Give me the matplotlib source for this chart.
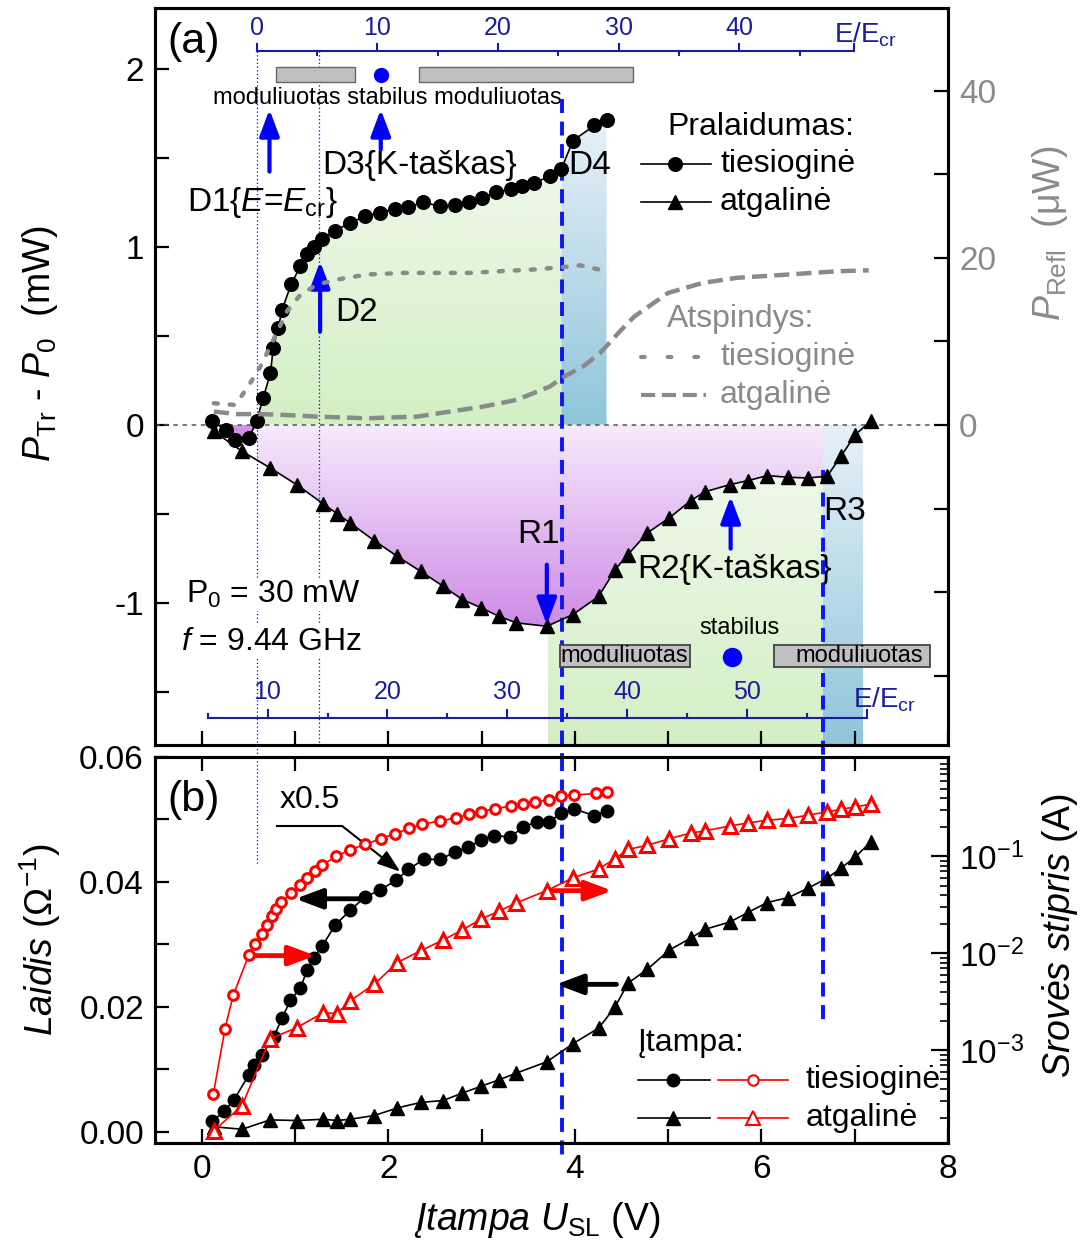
import numpy as np
import matplotlib
matplotlib.use("Agg")
import matplotlib.pyplot as plt
from matplotlib.colors import LinearSegmentedColormap
from matplotlib.patches import PathPatch, Rectangle
from matplotlib.ticker import (FixedLocator, FixedFormatter, MultipleLocator,
                               FormatStrFormatter, LogLocator, NullFormatter)

plt.rcParams["font.family"] = ["Liberation Sans", "DejaVu Sans"]
plt.rcParams["mathtext.fontset"] = "custom"
plt.rcParams["mathtext.rm"] = "Liberation Sans"
plt.rcParams["mathtext.it"] = "Liberation Sans:italic"
plt.rcParams["mathtext.bf"] = "Liberation Sans:bold"
plt.rcParams["axes.unicode_minus"] = False

# ---- (a) transmission, forward sweep
u_fwd_tr = [0.114, 0.257, 0.357, 0.51, 0.588, 0.66, 0.738, 0.767, 0.82, 0.863, 0.96, 1.059,
            1.13, 1.20, 1.29, 1.43, 1.594, 1.754, 1.914, 2.075, 2.217, 2.37, 2.556, 2.717,
            2.866, 3.0, 3.16, 3.32, 3.43, 3.565, 3.733, 3.857, 3.98, 4.21, 4.34]
p_fwd_tr = [0.02, -0.03, -0.085, -0.075, 0.02, 0.15, 0.29, 0.43, 0.54, 0.646, 0.79, 0.889,
            0.96, 1.00, 1.04, 1.09, 1.133, 1.17, 1.19, 1.213, 1.22, 1.25, 1.226, 1.236,
            1.25, 1.27, 1.305, 1.324, 1.34, 1.358, 1.395, 1.438, 1.595, 1.68, 1.71]

# ---- backward sweep voltages (shared by the backward series)
u_back = [0.128, 0.433, 0.733, 1.017, 1.305, 1.45, 1.59, 1.85, 2.096, 2.346, 2.588, 2.795,
          2.998, 3.185, 3.374, 3.70, 3.98, 4.256, 4.432, 4.57, 4.777, 5.013, 5.243, 5.393,
          5.665, 5.855, 6.062, 6.29, 6.50, 6.705, 6.853, 7.008, 7.17]
p_back_tr = [-0.037, -0.15, -0.243, -0.337, -0.446, -0.5, -0.552, -0.652, -0.74, -0.824, -0.908,
             -0.983, -1.03, -1.077, -1.114, -1.133, -1.067, -0.965, -0.815, -0.73, -0.609,
             -0.524, -0.427, -0.378, -0.337, -0.315, -0.287, -0.296, -0.30, -0.29, -0.178,
             -0.056, 0.019]

# ---- (a) reflected power (uW)
u_fwd_refl = [0.13, 0.345, 0.40, 0.52, 0.63, 0.77, 0.915, 1.06, 1.235, 1.45, 1.77, 2.165,
              2.56, 2.88, 3.2, 3.555, 3.88, 4.06, 4.26]
r_fwd_refl = [2.6, 2.4, 3.0, 5.0, 7.0, 10.2, 13.6, 15.6, 16.8, 17.4, 18.0, 18.2,
              18.2, 18.2, 18.4, 18.6, 18.9, 19.1, 18.6]
u_back_refl = [0.131, 0.38, 0.63, 0.88, 1.24, 1.77, 2.31, 2.66, 3.02, 3.376, 3.733, 3.857,
               4.088, 4.27, 4.50, 4.64, 5.0, 5.37, 5.73, 6.28, 6.82, 7.15]
r_back_refl = [1.6, 1.3, 1.3, 1.2, 1.0, 0.8, 1.0, 1.6, 2.2, 3.0, 4.6, 5.6,
               7.0, 8.6, 11.4, 13.0, 15.8, 17.0, 17.6, 18.0, 18.4, 18.5]

# ---- (b) conductance (1/Ohm) and current (A)
u_fwd_g = [0.114, 0.239, 0.346, 0.506, 0.56, 0.649, 0.773, 0.863, 0.952, 1.059, 1.13, 1.20,
           1.29, 1.433, 1.594, 1.754, 1.914, 2.086, 2.217, 2.378, 2.556, 2.717, 2.86, 2.995,
           3.134, 3.31, 3.447, 3.59, 3.72, 3.857, 3.99, 4.21, 4.34]
g_fwd = [0.00165, 0.00325, 0.0051, 0.0091, 0.0107, 0.0123, 0.0152, 0.0182, 0.0211, 0.023,
         0.0259, 0.0278, 0.0297, 0.0331, 0.0355, 0.0376, 0.0387, 0.0403, 0.042, 0.0436,
         0.0436, 0.0448, 0.0456, 0.0467, 0.0474, 0.0472, 0.0488, 0.0496, 0.0496, 0.051,
         0.0517, 0.0506, 0.0514]
g_back = [0.0008, 0.0004, 0.0019, 0.0018, 0.002, 0.0018, 0.002, 0.0026, 0.0038, 0.0047,
          0.005, 0.0062, 0.0073, 0.0083, 0.0094, 0.0112, 0.0141, 0.0166, 0.02, 0.0238,
          0.026, 0.0291, 0.031, 0.0324, 0.0336, 0.0351, 0.0367, 0.0375, 0.039, 0.0406,
          0.0422, 0.044, 0.0464]
u_fwd_i = [0.125, 0.25, 0.339, 0.506, 0.57, 0.642, 0.703, 0.756, 0.802, 0.852, 0.959, 1.059,
           1.13, 1.22, 1.29, 1.44, 1.594, 1.754, 1.92, 2.075, 2.225, 2.367, 2.55, 2.724,
           2.87, 2.995, 3.144, 3.32, 3.44, 3.57, 3.72, 3.857, 3.99, 4.23, 4.34]
i_fwd = [3.5e-4, 1.66e-3, 3.7e-3, 9.6e-3, 0.0126, 0.0158, 0.0197, 0.024, 0.0287, 0.0336,
         0.042, 0.0501, 0.0601, 0.0705, 0.0807, 0.1, 0.117, 0.133, 0.152, 0.172, 0.194,
         0.215, 0.231, 0.249, 0.272, 0.288, 0.311, 0.331, 0.351, 0.365, 0.38, 0.419,
         0.429, 0.446, 0.463]
i_back = [1.47e-4, 2.67e-4, 1.31e-3, 1.70e-3, 2.44e-3, 2.38e-3, 3.22e-3, 4.79e-3, 8.0e-3,
          0.0106, 0.0137, 0.0174, 0.0226, 0.0271, 0.0331, 0.0444, 0.060, 0.074, 0.0947,
          0.118, 0.13, 0.152, 0.174, 0.183, 0.206, 0.221, 0.236, 0.246, 0.266, 0.288,
          0.305, 0.325, 0.344]

# field-axis tick values (E/Ecr)
e_top_major = [0, 10, 20, 30, 40]
e_top_minor = [5, 15, 25, 35, 45]
e_bot_major = [10, 20, 30, 40, 50]
e_bot_minor = [15, 25, 35, 45, 55]

U_ECR = 0.588    # E = Ecr
U_D4 = 3.86
U_R3 = 6.66
BLUE = "#0a14ff"
NAVY = "#1c1c9c"
GRAY = "#8a8a8a"
FS = 24        # tick labels
FA = 24        # annotations
FL = 27        # axis labels
FSM = 17       # small texts


def gradient_fill(ax, x, y1, y2, y_light, y_dark, c_light, c_dark, z=0.5):
    coll = ax.fill_between(x, y1, y2, facecolor="none", edgecolor="none")
    patch = PathPatch(coll.get_paths()[0], facecolor="none", edgecolor="none",
                      transform=ax.transData)
    ax.add_patch(patch)
    lo, hi = min(y_light, y_dark), max(y_light, y_dark)
    cols = [c_dark, c_light] if y_light > y_dark else [c_light, c_dark]
    cmap = LinearSegmentedColormap.from_list("g", cols)
    grad = np.linspace(0, 1, 256).reshape(-1, 1)
    im = ax.imshow(grad, extent=[min(x), max(x), lo, hi], origin="lower", cmap=cmap,
                   aspect="auto", zorder=z, interpolation="bicubic")
    im.set_clip_path(patch)


def arrow(ax, x0, y0, x1, y1, color, lw=3, ms=20, hl=0.8, hw=0.3):
    ax.annotate("", xy=(x1, y1), xytext=(x0, y0),
                arrowprops=dict(arrowstyle=f"-|>,head_length={hl},head_width={hw}",
                                color=color, lw=lw, mutation_scale=ms,
                                shrinkA=0, shrinkB=0), zorder=8)


fig = plt.figure(figsize=(10.84, 12.49), dpi=100)
axt = fig.add_axes([155 / 1084, 1 - 745 / 1249, 793 / 1084, 737 / 1249])
axb = fig.add_axes([155 / 1084, 1 - 1143 / 1249, 793 / 1084, 386 / 1249])

XL = (-0.5, 8.0)
YT = (-1.8, 2.34)

# ================= panel (a) =================
uf = np.array(u_fwd_tr)
pf = np.array(p_fwd_tr)
ub = np.array(u_back)
pb = np.array(p_back_tr)

m = (uf >= U_ECR) & (uf <= 3.857)
gradient_fill(axt, uf[m], pf[m], 0, 1.45, 0, "#eef8ea", "#d3efc3")
m = uf >= 3.857
gradient_fill(axt, uf[m], pf[m], 0, 1.72, 0, "#e8f1f8", "#8fc5da")
xs = np.concatenate([[U_ECR], ub[(ub > U_ECR) & (ub < U_R3)], [U_R3]])
gradient_fill(axt, xs, np.interp(xs, ub, pb), 0, 0, -1.14, "#f6ebfb", "#cf8ae6")
xs = np.concatenate([[3.71], ub[(ub > 3.71) & (ub < U_R3)], [U_R3]])
gradient_fill(axt, xs, np.interp(xs, ub, pb), YT[0], -0.3, YT[0], "#eef8ea", "#d3efc3")
gradient_fill(axt, np.array([U_R3, 7.09]), np.array([0, 0]), YT[0], 0, YT[0],
              "#e8f1f8", "#8fc5da")
m = uf <= U_ECR
axt.fill_between(uf[m], pf[m], 0, where=pf[m] < 0, interpolate=True,
                 color="#d290e6", lw=0, zorder=0.6)

axt.axhline(0, color="#555555", lw=1.1, ls=(0, (3, 3)), zorder=2)

# guide lines
axt.plot([U_ECR, U_ECR], [2.096, -1.87], ls=(0, (1, 2)), color="blue", lw=0.9,
         zorder=2, clip_on=False)
axt.plot([1.26, 1.26], [2.096, YT[0]], ls=(0, (1, 2)), color="blue", lw=0.9, zorder=2)
axt.plot([U_D4, U_D4], [1.83, -1.87], ls=(0, (3.6, 2.2)), color=BLUE, lw=2.8,
         zorder=4, clip_on=False)
axt.plot([U_R3, U_R3], [-0.253, -1.87], ls=(0, (3.6, 2.2)), color=BLUE, lw=2.8,
         zorder=4, clip_on=False)

axt.plot(uf, pf, "-o", color="k", lw=1.2, ms=9.8, zorder=5)
axt.plot(ub, pb, "-^", color="k", lw=1.2, ms=10.5, zorder=5)


# E/Ecr axes drawn inside panel (a)
def u_top(e):
    return U_ECR + 0.1294 * np.asarray(e, dtype=float)


def u_bot(e):
    return 0.706 + 0.1286 * (np.asarray(e, dtype=float) - 10)


yE = 2.096
axt.plot(u_top([0, 49.5]), [yE, yE], color=NAVY, lw=1.5, zorder=3)
for e in e_top_major + [49.5]:
    axt.plot(u_top([e, e]), [yE, yE + 0.04], color=NAVY, lw=1.5, zorder=3)
for e in e_top_minor:
    axt.plot(u_top([e, e]), [yE, yE - 0.022], color=NAVY, lw=1.5, zorder=3)
for e in e_top_major:
    axt.text(u_top(e), 2.225, str(e), color=NAVY, fontsize=18, ha="center", va="center")
axt.text(7.12, 2.19, "E/E$_{\\rm cr}$", color=NAVY, fontsize=20, ha="center", va="center")

yE2 = -1.646
axt.plot(u_bot([5, 60]), [yE2, yE2], color=NAVY, lw=1.5, zorder=3)
for e in e_bot_major + [60]:
    axt.plot(u_bot([e, e]), [yE2, yE2 + 0.04], color=NAVY, lw=1.5, zorder=3)
for e in e_bot_minor + [5]:
    axt.plot(u_bot([e, e]), [yE2, yE2 + 0.022], color=NAVY, lw=1.5, zorder=3)
for e in e_bot_major:
    axt.text(u_bot(e), -1.50, str(e), color=NAVY, fontsize=18, ha="center", va="center")
axt.text(7.32, -1.545, "E/E$_{\\rm cr}$", color=NAVY, fontsize=20, ha="center", va="center")

# regime bars
axt.add_patch(Rectangle((0.80, 1.927), 0.847, 0.079, fc="#c0c0c0", ec="#666666", lw=1, zorder=3))
axt.add_patch(Rectangle((2.33, 1.927), 2.29, 0.079, fc="#c0c0c0", ec="#666666", lw=1, zorder=3))
axt.plot([1.925], [1.966], "o", color="blue", ms=10, zorder=4)
axt.text(1.995, 1.837, "moduliuotas stabilus moduliuotas", fontsize=FSM, ha="center",
         va="center")
axt.add_patch(Rectangle((3.84, -1.36), 1.39, 0.12, fc="#c0c0c0", ec="#444444", lw=1.3, zorder=6))
axt.add_patch(Rectangle((6.14, -1.36), 1.67, 0.12, fc="#c0c0c0", ec="#444444", lw=1.3, zorder=6))
axt.text(4.535, -1.30, "moduliuotas", fontsize=FSM, ha="center", va="center", zorder=7)
axt.text(7.05, -1.30, "moduliuotas", fontsize=FSM, ha="center", va="center", zorder=7)
axt.plot([5.68], [-1.303], "o", color="blue", ms=13, zorder=6)
axt.text(5.765, -1.14, "stabilus", fontsize=FSM, ha="center", va="center")

# annotations
arrow(axt, 0.727, 1.421, 0.727, 1.77, "blue")
arrow(axt, 1.92, 1.545, 1.92, 1.77, "blue")
arrow(axt, 1.27, 0.522, 1.27, 0.916, "blue")
arrow(axt, 3.70, -0.787, 3.70, -1.124, "blue")
arrow(axt, 5.67, -0.697, 5.67, -0.404, "blue")
axt.text(-0.16, 1.247, "D1{$E$=$E_{\\rm cr}$}", fontsize=FA, va="center")
axt.text(1.294, 1.455, "D3{K-taškas}", fontsize=FA, va="center")
axt.text(3.925, 1.455, "D4", fontsize=FA, va="center")
axt.text(1.433, 0.63, "D2", fontsize=FA, va="center")
axt.text(3.38, -0.618, "R1", fontsize=FA, va="center")
axt.text(4.674, -0.815, "R2{K-taškas}", fontsize=FA, va="center")
axt.text(6.663, -0.49, "R3", fontsize=FA, va="center")
axt.text(-0.171, -0.955, "P$_0$ = 30 mW", fontsize=23, va="center", zorder=6,
         bbox=dict(fc="white", ec="none", pad=1))
axt.text(-0.225, -1.219, "$f$ = 9.44 GHz", fontsize=23, va="center", zorder=6,
         bbox=dict(fc="white", ec="none", pad=1))
axt.text(0.016, 0.954, "(a)", transform=axt.transAxes, fontsize=31, va="center")

# legend (a)
T = axt.transAxes
axt.text(0.6456, 0.8385, "Pralaidumas:", transform=T, fontsize=23, va="center")
axt.plot([0.613, 0.701], [0.7883, 0.7883], "k-", lw=1.2, transform=T)
axt.plot([0.656], [0.7883], "ko", ms=9.8, transform=T)
axt.text(0.7125, 0.7883, "tiesioginė", transform=T, fontsize=23, va="center")
axt.plot([0.613, 0.701], [0.7368, 0.7368], "k-", lw=1.2, transform=T)
axt.plot([0.656], [0.7368], "k^", ms=10.5, transform=T)
axt.text(0.7125, 0.7368, "atgalinė", transform=T, fontsize=23, va="center")
axt.text(0.6456, 0.578, "Atspindys:", transform=T, fontsize=23, va="center", color=GRAY)
axt.plot([0.613, 0.688], [0.5265, 0.5265], color=GRAY, lw=3, ls=(0, (0.9, 5.5)),
         dash_capstyle="round", transform=T)
axt.text(0.7125, 0.5265, "tiesioginė", transform=T, fontsize=23, va="center", color=GRAY)
axt.plot([0.613, 0.695], [0.475, 0.475], color=GRAY, lw=3, ls=(0, (3.4, 1.6)), transform=T)
axt.text(0.7125, 0.475, "atgalinė", transform=T, fontsize=23, va="center", color=GRAY)

axt.set_xlim(*XL)
axt.set_ylim(*YT)
axt.yaxis.set_major_locator(FixedLocator([-1, 0, 1, 2]))
axt.yaxis.set_minor_locator(FixedLocator([-1.5, -0.5, 0.5, 1.5]))
axt.xaxis.set_major_locator(MultipleLocator(1))
axt.tick_params(which="both", direction="in", length=10, width=1.6, labelsize=FS,
                top=False, right=False, labelbottom=False, pad=8)

axr = axt.twinx()
axr.plot(u_fwd_refl, r_fwd_refl, color=GRAY, lw=3.2, ls=(0, (0.9, 2.7)),
         dash_capstyle="round", zorder=3)
axr.plot(u_back_refl, r_back_refl, color=GRAY, lw=3.2, ls=(0, (3.4, 1.6)), zorder=3)
axr.set_ylim(-38.3, 49.9)
axr.yaxis.set_major_locator(FixedLocator([0, 20, 40]))
axr.yaxis.set_minor_locator(FixedLocator([-30, -20, -10, 10, 30]))
axr.tick_params(which="both", direction="in", length=10, width=1.6, labelsize=FS,
                labelcolor=GRAY, pad=8)
axr.set_xlim(*XL)

# ================= panel (b) =================
YB = (-0.0018, 0.06)
axb.plot([U_ECR, U_ECR], [YB[1], 0.0427], ls=(0, (1, 2)), color="blue", lw=0.9, zorder=2)
axb.plot([U_D4, U_D4], [YB[1], -0.0037], ls=(0, (3.6, 2.2)), color=BLUE, lw=2.8,
         zorder=4, clip_on=False)
axb.plot([U_R3, U_R3], [YB[1], 0.0168], ls=(0, (3.6, 2.2)), color=BLUE, lw=2.8, zorder=4)

axb.plot(u_fwd_g, g_fwd, "-o", color="k", lw=1.2, ms=9, zorder=5)
axb.plot(u_back, g_back, "-^", color="k", lw=1.2, ms=9.5, zorder=5)

arrow(axb, 1.772, 0.0373, 1.005, 0.0373, "k", lw=3.5)
arrow(axb, 4.446, 0.0236, 3.80, 0.0236, "k", lw=3.5)
arrow(axb, 0.513, 0.0282, 1.219, 0.0282, "red", lw=3.5)
arrow(axb, 3.70, 0.0386, 4.40, 0.0386, "red", lw=3.5)
axb.plot([0.81, 1.505], [0.04896, 0.04896], "k-", lw=1.5)
arrow(axb, 1.505, 0.04896, 2.128, 0.04165, "k", lw=1.5, ms=14, hl=1.0, hw=0.35)
axb.text(1.155, 0.0531, "x0.5", fontsize=23, ha="center", va="center")
axb.text(0.016, 0.889, "(b)", transform=axb.transAxes, fontsize=31, va="center")

axb.set_xlim(*XL)
axb.set_ylim(*YB)
axb.xaxis.set_major_locator(MultipleLocator(2))
axb.xaxis.set_minor_locator(MultipleLocator(1))
axb.yaxis.set_major_locator(FixedLocator([0, 0.02, 0.04, 0.06]))
axb.yaxis.set_minor_locator(FixedLocator([0.01, 0.03, 0.05]))
axb.yaxis.set_major_formatter(FormatStrFormatter("%.2f"))
axb.tick_params(which="both", direction="in", length=10, width=1.6, labelsize=FS,
                top=True, right=False, pad=8)

axi = axb.twinx()
axi.set_yscale("log")
axi.plot(u_fwd_i, i_fwd, "-o", color="red", lw=1.2, ms=7, mfc="white", mec="red",
         mew=2.2, zorder=6)
axi.plot(u_back, i_back, "-^", color="red", lw=1.2, ms=10.5, mfc="white", mec="red",
         mew=2.2, zorder=6)
axi.set_ylim(1.1e-4, 1.06)
axi.yaxis.set_major_locator(FixedLocator([1e-3, 1e-2, 1e-1]))
axi.yaxis.set_major_formatter(FixedFormatter(["10$^{-3}$", "10$^{-2}$", "10$^{-1}$"]))
axi.yaxis.set_minor_locator(LogLocator(base=10, subs=np.arange(2, 10), numticks=20))
axi.yaxis.set_minor_formatter(NullFormatter())
axi.tick_params(which="major", direction="in", length=12, width=1.6, labelsize=FS, pad=8)
axi.tick_params(which="minor", direction="in", length=6, width=1.2)
axi.set_xlim(*XL)

# legend (b)
T = axb.transAxes
axb.text(0.609, 0.259, "Įtampa:", transform=T, fontsize=23, va="center")
for yy, mk, ms_k, ms_r in [(0.163, "o", 9, 7.5), (0.065, "^", 9.5, 10.5)]:
    axb.plot([0.609, 0.700], [yy, yy], "k-", lw=1.2, transform=T)
    axb.plot([0.653], [yy], "k" + mk, ms=ms_k, transform=T)
    axb.plot([0.710, 0.798], [yy, yy], "-", color="red", lw=1.2, transform=T)
    axb.plot([0.754], [yy], mk, ms=ms_r, mfc="white", mec="red", mew=1.5, transform=T)
axb.text(0.820, 0.163, "tiesioginė", transform=T, fontsize=23, va="center")
axb.text(0.820, 0.065, "atgalinė", transform=T, fontsize=23, va="center")

for ax in (axt, axb, axr, axi):
    for s in ax.spines.values():
        s.set_linewidth(2.2)

# axis labels
fig.text(40 / 1084, 1 - 343 / 1249, "$P_{\\rm Tr}$ - $P_0$  (mW)", rotation=90,
         fontsize=FL, ha="center", va="center")
fig.text(1050 / 1084, 1 - 233 / 1249, "$P_{\\rm Refl}$  (μW)", rotation=90,
         fontsize=FL, ha="center", va="center", color=GRAY)
fig.text(40 / 1084, 1 - 940 / 1249, "$\\mathit{Laidis}$ (Ω$^{-1}$)", rotation=90,
         fontsize=FL, ha="center", va="center")
fig.text(1060 / 1084, 1 - 935 / 1249, "$\\mathit{Srovės\\ stipris}$ (A)", rotation=90,
         fontsize=FL, ha="center", va="center")
fig.text(537 / 1084, 1 - 1220 / 1249, "$\\mathit{Įtampa}$ $U_{\\rm SL}$ (V)",
         fontsize=FL, ha="center", va="center")

fig.savefig("out.png", dpi=100)
